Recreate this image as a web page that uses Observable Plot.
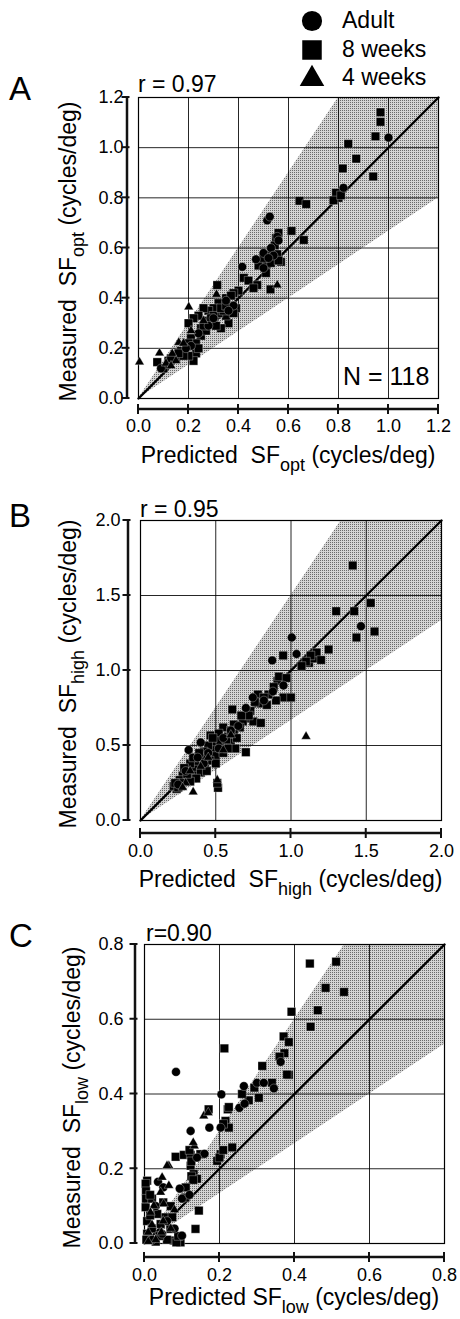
<!DOCTYPE html>
<html><head><meta charset="utf-8">
<script src="https://cdn.jsdelivr.net/npm/d3@7"></script>
<script src="https://cdn.jsdelivr.net/npm/@observablehq/plot@0.6"></script>
<style>
html,body{margin:0;padding:0;background:#fff;}
#fig{position:relative;width:460px;height:1319px;overflow:hidden;background:#fff;}
.pn{position:absolute;left:0;}
</style></head><body>
<svg width="0" height="0" style="position:absolute"><defs>
<pattern id="stipple" width="2" height="2" patternUnits="userSpaceOnUse"><rect width="2" height="2" fill="#d4d4d4"/><rect width="1" height="1" fill="#6a6a6a"/></pattern>
</defs></svg>
<div id="fig"></div>
<script>
// ---------- DATA ----------
const legendLabels = ["Adult", "8 weeks", "4 weeks"];
const panelLetters = ["A", "B", "C"];
const rLabels = ["r = 0.97", "r = 0.95", "r=0.90"];
const subNames = ["opt", "high", "low"];
const xTitlePrefix = ["Predicted  SF", "Predicted  SF", "Predicted SF"];
const yTitlePrefix = "Measured  SF";
const titleSuffix = " (cycles/deg)";
const nLabel = "N = 118";

const A_ticks = [0, 0.2, 0.4, 0.6, 0.8, 1.0, 1.2];
const B_ticks = [0, 0.5, 1.0, 1.5, 2.0];
const C_ticks = [0, 0.2, 0.4, 0.6, 0.8];

// Panel A: [predicted SFopt, measured SFopt]
const A_adult = [[1.00,1.04],[0.82,0.84],[0.515,0.71],[0.525,0.725],[0.555,0.645],[0.56,0.63],[0.53,0.60],[0.50,0.58],[0.47,0.555],[0.415,0.525],[0.54,0.57],[0.38,0.37],[0.36,0.35],[0.30,0.32],[0.24,0.26],[0.21,0.21],[0.19,0.20],[0.52,0.56],[0.35,0.39],[0.28,0.29],[0.50,0.52],[0.09,0.12]];
const A_8wk = [[0.968,1.141],[0.968,1.103],[0.948,1.045],[0.839,1.015],[0.871,0.956],[0.817,0.917],[0.939,0.885],[0.80,0.80],[0.79,0.82],[0.78,0.79],[0.81,0.81],[0.644,0.788],[0.671,0.775],[0.612,0.668],[0.661,0.632],[0.56,0.66],[0.55,0.64],[0.545,0.61],[0.57,0.545],[0.55,0.56],[0.52,0.55],[0.50,0.53],[0.48,0.53],[0.51,0.50],[0.53,0.58],[0.421,0.481],[0.475,0.452],[0.528,0.435],[0.315,0.452],[0.40,0.43],[0.38,0.42],[0.39,0.36],[0.37,0.37],[0.36,0.30],[0.35,0.40],[0.35,0.33],[0.33,0.28],[0.32,0.38],[0.32,0.34],[0.30,0.36],[0.30,0.30],[0.28,0.35],[0.28,0.30],[0.27,0.31],[0.26,0.36],[0.25,0.28],[0.24,0.33],[0.22,0.32],[0.20,0.30],[0.21,0.24],[0.23,0.18],[0.22,0.15],[0.20,0.17],[0.19,0.21],[0.17,0.19],[0.15,0.16],[0.12,0.15],[0.10,0.12],[0.075,0.145],[0.25,0.25],[0.27,0.27],[0.34,0.35],[0.30,0.33],[0.23,0.22],[0.18,0.17],[0.44,0.47],[0.46,0.44],[0.555,0.575],[0.53,0.54],[0.56,0.55],[0.29,0.32],[0.31,0.29],[0.37,0.41],[0.16,0.18],[0.24,0.20],[0.33,0.36],[0.20,0.22],[0.26,0.29],[0.35,0.37],[0.38,0.34],[0.13,0.16],[0.50,0.56]];
const A_4wk = [[0.004,0.145],[0.084,0.181],[0.135,0.179],[0.161,0.223],[0.201,0.365],[0.312,0.415],[0.555,0.452],[0.11,0.14],[0.15,0.15],[0.18,0.22],[0.21,0.27],[0.26,0.31],[0.13,0.13]];

// Panel B: [predicted SFhigh, measured SFhigh]
const B_adult = [[1.005,1.22],[1.037,1.11],[0.875,1.067],[1.465,1.295],[0.746,0.82],[0.40,0.52],[0.32,0.47],[0.95,0.90],[0.82,0.80],[0.60,0.60],[0.55,0.55],[0.65,0.63],[0.45,0.45],[0.38,0.42],[0.30,0.33],[0.70,0.75],[0.88,0.86],[0.25,0.24],[0.52,0.48],[0.42,0.38]];
const B_8wk = [[1.41,1.70],[1.30,1.395],[1.42,1.395],[1.53,1.45],[1.555,1.26],[1.435,1.22],[0.948,1.10],[1.12,1.05],[1.15,1.08],[1.17,1.12],[1.20,1.07],[1.13,1.10],[1.10,1.06],[1.25,1.14],[0.91,0.93],[0.885,0.89],[0.92,0.96],[0.95,0.82],[1.0,0.82],[0.90,0.80],[0.85,0.84],[0.80,0.78],[0.78,0.84],[0.61,0.74],[0.73,0.73],[0.70,0.68],[0.75,0.66],[0.80,0.65],[0.68,0.66],[0.465,0.567],[0.70,0.455],[0.66,0.62],[0.62,0.58],[0.58,0.56],[0.55,0.62],[0.52,0.58],[0.50,0.50],[0.56,0.50],[0.60,0.52],[0.63,0.48],[0.48,0.47],[0.45,0.50],[0.42,0.46],[0.40,0.40],[0.38,0.37],[0.36,0.34],[0.35,0.30],[0.33,0.38],[0.32,0.30],[0.30,0.28],[0.28,0.30],[0.26,0.27],[0.24,0.21],[0.22,0.23],[0.25,0.22],[0.515,0.218],[0.51,0.25],[0.43,0.35],[0.47,0.40],[0.50,0.43],[0.55,0.45],[0.58,0.48],[0.35,0.42],[0.40,0.32],[0.37,0.28],[0.46,0.40],[0.29,0.35],[0.53,0.53],[0.57,0.54],[0.64,0.55],[0.42,0.42],[0.27,0.25],[0.33,0.26],[0.72,0.70],[0.76,0.79],[0.84,0.77],[0.62,0.64],[0.50,0.38],[0.44,0.33],[0.31,0.31],[0.39,0.45],[0.48,0.55],[0.60,0.60],[0.67,0.70],[0.82,0.82],[0.97,0.95],[1.07,1.03],[0.23,0.25]];
const B_4wk = [[1.10,0.56],[0.35,0.19],[0.51,0.27],[0.30,0.25],[0.40,0.36],[0.45,0.42],[0.33,0.33],[0.55,0.47],[0.28,0.22],[0.60,0.57]];

// Panel C: [predicted SFlow, measured SFlow]
const C_adult = [[0.084,0.459],[0.363,0.486],[0.30,0.43],[0.265,0.421],[0.318,0.43],[0.345,0.415],[0.253,0.363],[0.267,0.374],[0.205,0.399],[0.203,0.31],[0.173,0.31],[0.123,0.301],[0.094,0.147],[0.036,0.165],[0.10,0.021],[0.047,0.026],[0.10,0.12],[0.06,0.06],[0.03,0.10],[0.12,0.13],[0.02,0.01],[0.08,0.04],[0.05,0.15],[0.16,0.24],[0.14,0.23]];
const C_8wk = [[0.441,0.749],[0.511,0.754],[0.483,0.684],[0.532,0.673],[0.392,0.62],[0.462,0.624],[0.443,0.58],[0.371,0.554],[0.385,0.539],[0.373,0.509],[0.385,0.451],[0.213,0.522],[0.314,0.475],[0.38,0.452],[0.293,0.417],[0.305,0.39],[0.278,0.383],[0.222,0.359],[0.216,0.328],[0.225,0.31],[0.171,0.359],[0.083,0.232],[0.105,0.237],[0.123,0.237],[0.123,0.208],[0.131,0.186],[0.14,0.173],[0.149,0.239],[0.194,0.221],[0.203,0.239],[0.234,0.257],[0.007,0.168],[0.145,0.088],[0.136,0.039],[0.096,0.003],[0.078,0.008],[0.003,0.16],[0.003,0.097],[0.007,0.06],[0.007,0.026],[0.109,0.123],[0.034,0.079],[0.056,0.07],[0.074,0.07],[0.043,0.052],[0.069,0.039],[0.085,0.003],[0.004,0.14],[0.004,0.12],[0.02,0.04],[0.03,0.005],[0.06,0.01],[0.09,0.02],[0.12,0.25],[0.125,0.22],[0.125,0.18],[0.13,0.17],[0.20,0.23],[0.21,0.25],[0.26,0.40],[0.34,0.43],[0.36,0.50],[0.02,0.12],[0.05,0.11],[0.07,0.10],[0.11,0.15],[0.015,0.075],[0.005,0.01],[0.04,0.02],[0.225,0.365],[0.21,0.32],[0.015,0.13]];
const C_4wk = [[0.158,0.341],[0.133,0.261],[0.065,0.208],[0.06,0.208],[0.047,0.177],[0.065,0.155],[0.043,0.137],[0.025,0.101],[0.051,0.106],[0.016,0.083],[0.01,0.03],[0.02,0.05],[0.03,0.01],[0.05,0.06],[0.17,0.35],[0.13,0.27],[0.07,0.04],[0.08,0.09],[0.01,0.005],[0.045,0.03]];

// ---------- LAYOUT ----------
const FONT = '"Liberation Sans", Arial, Helvetica, sans-serif';
const INK = "#111111";
const panels = [
  {top: 0,   height: 480, mt: 97, mb: 82, ml: 138, mr: 22, ticks: A_ticks, adult: A_adult, w8: A_8wk, w4: A_4wk, xOff: 11, yOff: 11, xPad: 21, yPad: 15, letterY: 100, rY: 92, rX: 138, xTitleY: 463, yTitleX: 76},
  {top: 480, height: 420, mt: 40, mb: 80, ml: 140, mr: 19, ticks: B_ticks, adult: B_adult, w8: B_8wk, w4: B_4wk, xOff: 13, yOff: 12, xPad: 24, yPad: 20, letterY: 527, rY: 517, rX: 140, xTitleY: 887, yTitleX: 76},
  {top: 900, height: 419, mt: 44, mb: 76, ml: 144, mr: 16, ticks: C_ticks, adult: C_adult, w8: C_8wk, w4: C_4wk, xOff: 14, yOff: 9, xPad: 25, yPad: 21, letterY: 947, rY: 941, rX: 146, xTitleY: 1305, yTitleX: 80}
];

const fig = document.getElementById("fig");

function richText(svg, x, y, parts, size, subSize, anchor, rotate) {
  const t = d3.select(svg).append("text")
    .attr("transform", `translate(${x},${y}) rotate(${rotate})`)
    .attr("text-anchor", anchor).attr("font-family", FONT)
    .attr("font-size", size).attr("fill", "black").style("white-space", "pre");
  let lowered = false;
  for (const p of parts) {
    const ts = t.append("tspan");
    if (typeof p === "object") {
      ts.text(p.sub).attr("font-size", subSize).attr("dy", 8);
      lowered = true;
    } else {
      ts.text(p);
      if (lowered) { ts.attr("dy", -8); lowered = false; }
    }
  }
  return t;
}
function plainText(svg, x, y, s, size, anchor = "start") {
  d3.select(svg).append("text").attr("x", x).attr("y", y).attr("font-family", FONT)
    .attr("font-size", size).attr("fill", "black").attr("text-anchor", anchor)
    .style("white-space", "pre").text(s);
}

panels.forEach((p, i) => {
  const max = p.ticks[p.ticks.length - 1];
  const wedge = [{x: 0, lo: 0, hi: 0}, {x: max / 1.5, lo: max / 2.25, hi: max}, {x: max, lo: max / 1.5, hi: max}];
  const diag = [[0, 0], [max, max]];
  const fmt = d => d.toFixed(1);
  const chart = Plot.plot({
    width: 460, height: p.height,
    marginTop: p.mt, marginBottom: p.mb, marginLeft: p.ml, marginRight: p.mr,
    x: {domain: [0, max]}, y: {domain: [0, max]},
    style: {fontFamily: FONT, fontSize: "18px", color: "black", background: "white", overflow: "visible"},
    marks: [
      Plot.areaY(wedge, {x: "x", y1: "lo", y2: "hi", fill: "url(#stipple)"}),
      Plot.gridX(p.ticks, {stroke: "black", strokeOpacity: 0.85, strokeWidth: 1}),
      Plot.gridY(p.ticks, {stroke: "black", strokeOpacity: 0.85, strokeWidth: 1}),
      Plot.frame({stroke: "black", strokeWidth: 1.2}),
      Plot.line(diag, {x: d => d[0], y: d => d[1], stroke: "black", strokeWidth: 2.4}),
      Plot.dot(p.w8, {x: d => d[0], y: d => d[1], symbol: "square", r: 4.8, fill: "black", stroke: "white", strokeWidth: 0.3}),
      Plot.dot(p.adult, {x: d => d[0], y: d => d[1], symbol: "circle", r: 4.4, fill: "black", stroke: "white", strokeWidth: 0.3}),
      Plot.dot(p.w4, {x: d => d[0], y: d => d[1], symbol: "triangle", r: 3.5, fill: "black", stroke: "white", strokeWidth: 0.3}),
      Plot.axisX({ticks: p.ticks, tickSize: 0, tickPadding: p.xPad, tickFormat: fmt, label: null, fontSize: 18}),
      Plot.axisY({ticks: p.ticks, tickSize: 0, tickPadding: p.yPad, tickFormat: fmt, label: null, fontSize: 18})
    ]
  });
  const wrap = document.createElement("div");
  wrap.className = "pn";
  wrap.style.top = p.top + "px";
  wrap.appendChild(chart);
  fig.appendChild(wrap);
  const svg = chart.tagName.toLowerCase() === "svg" ? chart : chart.querySelector("svg");
  const sx = chart.scale("x"), sy = chart.scale("y");
  const X = v => sx.apply(v), Y = v => sy.apply(v);
  const g = d3.select(svg).append("g");
  // offset x axis (line + crossing ticks), positioned through the plot's scales
  const ax = Y(0) + p.xOff;
  g.append("line").attr("x1", X(0)).attr("x2", X(max)).attr("y1", ax).attr("y2", ax)
    .style("stroke", INK).style("stroke-width", "2.5px");
  g.selectAll("line.xt").data(p.ticks).join("line").attr("class", "xt")
    .attr("x1", d => X(d)).attr("x2", d => X(d)).attr("y1", ax - 5).attr("y2", ax + 5)
    .style("stroke", INK).style("stroke-width", "2px");
  // offset y axis
  const ay = X(0) - p.yOff;
  g.append("line").attr("x1", ay).attr("x2", ay).attr("y1", Y(0)).attr("y2", Y(max))
    .style("stroke", INK).style("stroke-width", "2.5px");
  g.selectAll("line.yt").data(p.ticks).join("line").attr("class", "yt")
    .attr("y1", d => Y(d)).attr("y2", d => Y(d)).attr("x1", ay - 5.5).attr("x2", ay + 2.5)
    .style("stroke", INK).style("stroke-width", "2px");

  const T = p.top;
  const fx = p.ml + (460 - p.ml - p.mr) / 2;
  const fy = p.mt + (p.height - p.mt - p.mb) / 2;
  plainText(svg, 9, p.letterY - T, panelLetters[i], 33);
  plainText(svg, p.rX, p.rY - T, rLabels[i], 23);
  richText(svg, fx, p.xTitleY - T, [xTitlePrefix[i], {sub: subNames[i]}, titleSuffix], 23, 18, "middle", 0);
  richText(svg, p.yTitleX, fy + 4, [yTitlePrefix, {sub: subNames[i]}, titleSuffix], 23, 18, "middle", -90);
  if (i === 0) {
    plainText(svg, 343, 385, nLabel, 25);
    const sym = [d3.symbolCircle, d3.symbolSquare, d3.symbolTriangle];
    const sizes = [320, 380, 260];
    const ys = [21, 50, 79];
    const base = [28, 57, 85];
    legendLabels.forEach((lab, k) => {
      d3.select(svg).append("path").attr("d", d3.symbol(sym[k], sizes[k])())
        .attr("transform", `translate(312,${ys[k]})`).attr("fill", "black");
      plainText(svg, 342, base[k], lab, 23);
    });
  }
});
</script>
</body></html>
